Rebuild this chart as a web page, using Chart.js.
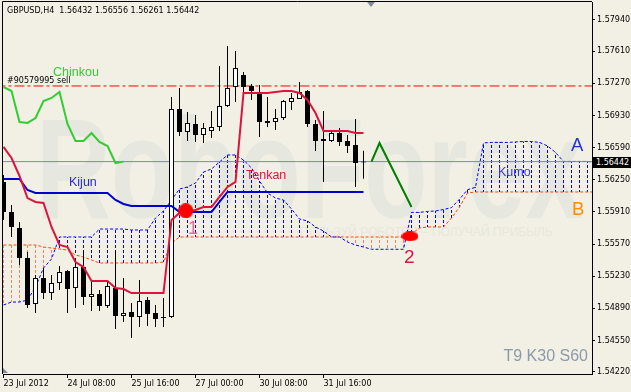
<!DOCTYPE html>
<html>
<head>
<meta charset="utf-8">
<script src="https://cdn.jsdelivr.net/npm/chart.js@4.4.0/dist/chart.umd.min.js"></script>
<style>
  html, body { margin: 0; padding: 0; background: #f2f0e4; }
  #wrap { position: relative; width: 631px; height: 392px; overflow: hidden; background: #f2f0e4; }
  #chart { position: absolute; left: 0; top: 0; }
  .lbl { position: absolute; white-space: nowrap; line-height: 1; font-family: 'Liberation Sans', Arial, sans-serif; }
  .sm { font: 8px 'DejaVu Sans', sans-serif; color: #000; }
  .wm { position: absolute; color: #e6e7de; white-space: nowrap; line-height: 1; font-family: 'Liberation Sans', Arial, sans-serif; }
</style>
</head>
<body>
<div id="wrap">
  <!-- watermark -->
  <div class="wm" style="left:36px;top:98px;font-size:142px;font-weight:bold;transform:scaleX(0.73);transform-origin:0 0;">RoboForex</div>
  <div class="wm" style="left:300px;top:226px;font-size:12px;">ПОЛЬЗУЙ РОБОТОВ – ПОЛУЧАЙ ПРИБЫЛЬ</div>

  <canvas id="chart" width="631" height="392"></canvas>

  <div class="lbl sm" style="left:7px;top:6px;">GBPUSD,H4&nbsp; 1.56432 1.56556 1.56261 1.56442</div>
  <div class="lbl sm" style="left:7px;top:76px;">#90579995 sell</div>
  <div class="lbl" style="left:53px;top:66px;font-size:12.5px;color:#32cd32;">Chinkou</div>
  <div class="lbl" style="left:69px;top:176px;font-size:12.5px;color:#2a2ad8;">Kijun</div>
  <div class="lbl" style="left:246px;top:169px;font-size:12.5px;color:#dc143c;">Tenkan</div>
  <div class="lbl" style="left:498px;top:166px;font-size:12.5px;color:#3a3ad0;">Kumo</div>
  <div class="lbl" style="left:571px;top:136px;font-size:18.5px;color:#2233cc;">A</div>
  <div class="lbl" style="left:572px;top:200px;font-size:18.5px;color:#ff8c00;">B</div>
  <div class="lbl" style="left:188px;top:219px;font-size:18px;color:#e46c9c;">1</div>
  <div class="lbl" style="left:404px;top:247px;font-size:19px;color:#dc143c;">2</div>
  <div class="lbl" style="right:43px;top:348px;font-size:16px;color:#8a9aaa;">T9 K30 S60</div>
  <div class="lbl sm" style="left:592px;top:157px;width:35px;height:11px;padding-left:4px;background:#000;color:#fff;line-height:11px;">1.56442</div>
  <div style="position:absolute;left:367px;top:2px;width:0;height:0;border-left:4px solid transparent;border-right:4px solid transparent;border-top:5px solid #7f8c99;"></div>
  <div style="position:absolute;left:3px;top:368px;width:0;height:0;border-right:5px solid transparent;border-bottom:5px solid #7f8c99;"></div>
</div>

<script>
// axes
const xTickIdx = [0, 8, 16, 24, 32, 40];
const xTickLabels = ['23 Jul 2012', '24 Jul 08:00', '25 Jul 16:00', '27 Jul 00:00', '30 Jul 08:00', '31 Jul 16:00'];
const yTicks = [1.57940, 1.57610, 1.57270, 1.56930, 1.56590, 1.56250, 1.55910, 1.55570, 1.55230, 1.54890, 1.54550, 1.54220];

// H4 candles, bar 0 = 23 Jul 00:00
const opens = [1.56227, 1.55909, 1.55740, 1.55423, 1.54936, 1.55211, 1.55052, 1.55158, 1.55285, 1.55105,
  1.55327, 1.55010, 1.55042, 1.54915, 1.55105, 1.54809, 1.54852, 1.54799, 1.54978, 1.54841,
  1.54799, 1.54799, 1.56999, 1.56755, 1.56840, 1.56724, 1.56766, 1.56808, 1.57030, 1.57231,
  1.57358, 1.57242, 1.57178, 1.56872, 1.56861, 1.56903, 1.57073, 1.57104, 1.57189, 1.56840,
  1.56681, 1.56660, 1.56745, 1.56660, 1.56618, 1.56432];
const highs = [1.56301, 1.55983, 1.55803, 1.55486, 1.55243, 1.55317, 1.55243, 1.55338, 1.55296, 1.55423,
  1.55507, 1.55179, 1.55084, 1.55169, 1.55507, 1.55211, 1.54947, 1.55190, 1.55010, 1.54926,
  1.55000, 1.57126, 1.57221, 1.56967, 1.56935, 1.56851, 1.56977, 1.57453, 1.57665, 1.57612,
  1.57390, 1.57263, 1.57252, 1.57126, 1.56999, 1.57094, 1.57168, 1.57284, 1.57200, 1.56882,
  1.56977, 1.56777, 1.56798, 1.56724, 1.56893, 1.56556];
const lows = [1.55825, 1.55645, 1.55349, 1.54894, 1.54841, 1.54989, 1.54978, 1.55084, 1.54841, 1.54894,
  1.54926, 1.54862, 1.54862, 1.54894, 1.54672, 1.54746, 1.54577, 1.54693, 1.54704, 1.54693,
  1.54693, 1.54788, 1.56713, 1.56660, 1.56650, 1.56639, 1.56692, 1.56766, 1.57020, 1.57073,
  1.57126, 1.57094, 1.56703, 1.56808, 1.56777, 1.56882, 1.56988, 1.57104, 1.56808, 1.56554,
  1.56227, 1.56650, 1.56607, 1.56533, 1.56174, 1.56261];
const closes = [1.55909, 1.55751, 1.55423, 1.54926, 1.55211, 1.55052, 1.55158, 1.55275, 1.55095, 1.55327,
  1.55010, 1.55042, 1.54915, 1.55127, 1.54809, 1.54841, 1.54799, 1.54968, 1.54830, 1.54777,
  1.54788, 1.56999, 1.56755, 1.56851, 1.56724, 1.56798, 1.56808, 1.57030, 1.57221, 1.57432,
  1.57231, 1.57189, 1.56861, 1.56851, 1.56903, 1.57083, 1.57115, 1.57178, 1.56840, 1.56660,
  1.56660, 1.56745, 1.56650, 1.56607, 1.56427, 1.56442];

// Ichimoku (T9 K30 S60)
const tenkan = [1.56597, 1.56480, 1.56290, 1.56057, 1.56015, 1.56004, 1.55751, 1.55560, 1.55539, 1.55380,
  1.55327, 1.55179, 1.55179, 1.55179, 1.55105, 1.55095, 1.55052, 1.55052, 1.55052, 1.55052,
  1.55052, 1.55825, 1.55899, 1.55920, 1.55930, 1.55962, 1.55962, 1.56068, 1.56174, 1.56227,
  1.57168, 1.57168, 1.57168, 1.57168, 1.57178, 1.57189, 1.57189, 1.57168, 1.57094, 1.56956,
  1.56766, 1.56766, 1.56766, 1.56766, 1.56745, 1.56745];
const kijun = [1.56258, 1.56258, 1.56258, 1.56142, 1.56110, 1.56110, 1.56110, 1.56110, 1.56110, 1.56110,
  1.56110, 1.56110, 1.56110, 1.56110, 1.56036, 1.55994, 1.55973, 1.55973, 1.55973, 1.55973,
  1.55973, 1.55973, 1.55909, 1.55909, 1.55909, 1.55909, 1.55909, 1.56015, 1.56121, 1.56121,
  1.56121, 1.56121, 1.56121, 1.56121, 1.56121, 1.56121, 1.56121, 1.56121, 1.56121, 1.56121,
  1.56121, 1.56121, 1.56121, 1.56121, 1.56121, 1.56121];
const chinkou = [1.57231, 1.57189, 1.56861, 1.56851, 1.56903, 1.57083, 1.57115, 1.57178, 1.56840, 1.56660,
  1.56660, 1.56745, 1.56650, 1.56607, 1.56427, 1.56442];
const senkouA = [1.54926, 1.54957, 1.54957, 1.54978, 1.55116, 1.55317, 1.55412, 1.55645, 1.55645, 1.55645,
  1.55645, 1.55645, 1.55729, 1.55729, 1.55729, 1.55729, 1.55719, 1.55719, 1.55719, 1.55846,
  1.55920, 1.56036, 1.56152, 1.56174, 1.56216, 1.56332, 1.56364, 1.56438, 1.56512, 1.56512,
  1.56459, 1.56375, 1.56237, 1.56110, 1.56057, 1.56036, 1.55941, 1.55835, 1.55814, 1.55751,
  1.55708, 1.55645, 1.55645, 1.55592, 1.55560, 1.55539, 1.55515, 1.55515, 1.55515, 1.55515,
  1.55515, 1.55905, 1.55905, 1.55915, 1.55920, 1.55936, 1.55955, 1.56045, 1.56145, 1.56170,
  1.56640, 1.56645, 1.56645, 1.56645, 1.56650, 1.56655, 1.56655, 1.56645, 1.56608, 1.56539,
  1.56444, 1.56444, 1.56444, 1.56444, 1.56433, 1.56433];
const senkouB = [1.55560, 1.55560, 1.55560, 1.55560, 1.55560, 1.55539, 1.55528, 1.55518, 1.55507, 1.55454,
  1.55433, 1.55402, 1.55370, 1.55370, 1.55370, 1.55370, 1.55370, 1.55370, 1.55370, 1.55370,
  1.55380, 1.55581, 1.55645, 1.55645, 1.55645, 1.55645, 1.55645, 1.55645, 1.55645, 1.55645,
  1.55645, 1.55645, 1.55645, 1.55645, 1.55645, 1.55645, 1.55645, 1.55645, 1.55645, 1.55645,
  1.55645, 1.55645, 1.55645, 1.55645, 1.55645, 1.55645, 1.55645, 1.55645, 1.55645, 1.55645,
  1.55645, 1.55677, 1.55740, 1.55751, 1.55751, 1.55751, 1.55846, 1.55962, 1.56110, 1.56121,
  1.56121, 1.56121, 1.56121, 1.56121, 1.56121, 1.56121, 1.56121, 1.56121, 1.56121, 1.56121,
  1.56121, 1.56121, 1.56121, 1.56121, 1.56121, 1.56121];

// chart objects
const sellLevel = 1.57242;
const bidPrice = 1.56442;
const arrowX = [46, 47, 51];
const arrowY = [1.56442, 1.56639, 1.55962];
const markX = [22.79, 50.81];
const markY = [1.55922, 1.55652];

const idx = (arr, from = 0) => arr.map((v, i) => ({ x: i + from, y: v }));

// dotted fill for the kumo hatch
function dashPattern(color) {
    const c = document.createElement('canvas');
    c.width = 1;
    c.height = 5;
    const g = c.getContext('2d');
    g.fillStyle = color;
    g.fillRect(0, 0, 1, 3);
    return g.createPattern(c, 'repeat');
}
const upKumo = dashPattern('#0000ff');
const downKumo = dashPattern('#f08462');

function ellipse(w, h) {
    const c = document.createElement('canvas');
    c.width = w;
    c.height = h;
    const g = c.getContext('2d');
    g.fillStyle = '#ff0000';
    g.beginPath();
    g.ellipse(w / 2, h / 2, w / 2, h / 2, 0, 0, Math.PI * 2);
    g.fill();
    return c;
}
const markStyles = [ellipse(15, 15), ellipse(17, 10)];

const framePlugin = {
    id: 'frame',
    afterDraw(chart) {
        const { ctx, chartArea: a } = chart;
        ctx.save();
        ctx.strokeStyle = '#000';
        ctx.lineWidth = 1;
        ctx.beginPath();
        ctx.moveTo(a.left - 0.5, a.bottom);
        ctx.lineTo(a.left - 0.5, a.top - 0.5);
        ctx.lineTo(a.right, a.top - 0.5);
        ctx.stroke();
        ctx.restore();
    }
};

const smallFont = { family: 'DejaVu Sans', size: 8 };

new Chart(document.getElementById('chart'), {
    type: 'bar',
    data: {
        datasets: [
            {
                type: 'line', data: markX.map((x, i) => ({ x, y: markY[i] })), showLine: false,
                pointStyle: markStyles, pointRadius: 8, order: 0
            },
            {
                type: 'line', data: arrowX.map((x, i) => ({ x, y: arrowY[i] })),
                borderColor: '#008000', borderWidth: 2, pointRadius: 0, order: 1
            },
            {
                type: 'line', data: idx(tenkan), borderColor: '#dc143c', borderWidth: 2, pointRadius: 0, order: 2
            },
            {
                type: 'line', data: idx(kijun), borderColor: '#0000cd', borderWidth: 2, pointRadius: 0, order: 2
            },
            {
                type: 'line', data: idx(chinkou), borderColor: '#32cd32', borderWidth: 2, pointRadius: 0, order: 2
            },
            {
                data: opens.map((o, i) => ({ x: i, y: [o, closes[i]] })),
                backgroundColor: closes.map((c, i) => c >= opens[i] ? '#ffffff' : '#000000'),
                borderColor: '#000', borderWidth: 1, borderSkipped: false,
                barThickness: 5, grouped: false, inflateAmount: 0, order: 4
            },
            {
                data: lows.map((l, i) => ({ x: i, y: [l, highs[i]] })),
                backgroundColor: '#000', barThickness: 1, grouped: false, inflateAmount: 0, order: 5
            },
            {
                type: 'line', data: [{ x: -1, y: sellLevel }, { x: 80, y: sellLevel }],
                borderColor: '#ff0000', borderWidth: 1, borderDash: [10, 3, 3, 3], pointRadius: 0, order: 6
            },
            {
                type: 'line', data: [{ x: -1, y: bidPrice }, { x: 80, y: bidPrice }],
                borderColor: '#7a8ca0', borderWidth: 1, pointRadius: 0, order: 6
            },
            {
                type: 'line', data: idx(senkouA), borderColor: '#0000ff', borderWidth: 1,
                borderDash: [3, 2], pointRadius: 0, order: 7
            },
            {
                type: 'line', data: idx(senkouB), borderColor: '#ff4500', borderWidth: 1,
                borderDash: [3, 2], pointRadius: 0, order: 7
            },
            {
                data: senkouA.map((a, i) => ({ x: i, y: [a, senkouB[i]] })),
                backgroundColor: senkouA.map((a, i) => a >= senkouB[i] ? upKumo : downKumo),
                barThickness: 1, grouped: false, inflateAmount: 0, order: 8
            }
        ]
    },
    options: {
        responsive: false,
        animation: false,
        devicePixelRatio: 1,
        layout: { autoPadding: false, padding: { left: 3, top: 2, right: 0, bottom: 0 } },
        plugins: { legend: { display: false }, tooltip: { enabled: false } },
        scales: {
            x: {
                type: 'linear',
                min: -0.0625,
                max: 73.5625,
                offset: false,
                afterBuildTicks: s => { s.ticks = xTickIdx.map(v => ({ value: v })); },
                afterFit: s => { s.height = 18; s.paddingLeft = 0; s.paddingRight = 0; },
                ticks: {
                    autoSkip: false, maxRotation: 0, align: 'start', padding: 1,
                    color: '#000', font: smallFont,
                    callback: (v, i) => xTickLabels[i]
                },
                grid: { display: true, drawOnChartArea: false, drawTicks: true, tickLength: 4, color: '#000', offset: false },
                border: { display: true, color: '#000' }
            },
            y: {
                position: 'right',
                min: 1.54196,
                max: 1.58130,
                afterBuildTicks: s => { s.ticks = yTicks.map(v => ({ value: v })); },
                afterFit: s => { s.width = 39; s.paddingTop = 0; s.paddingBottom = 0; },
                ticks: {
                    padding: 2, color: '#000', font: smallFont,
                    callback: v => v.toFixed(5)
                },
                grid: { display: true, drawOnChartArea: false, drawTicks: true, tickLength: 3, color: '#000' },
                border: { display: true, color: '#000' }
            }
        }
    },
    plugins: [framePlugin]
});
</script>
</body>
</html>
